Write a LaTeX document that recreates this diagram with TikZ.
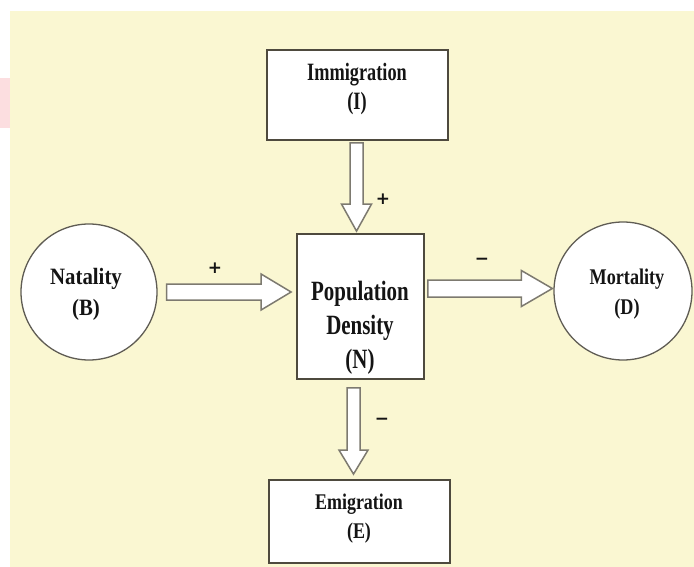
\documentclass[tikz,border=0pt]{standalone}
\usepackage{graphicx}
\usepackage{fontspec}
\setmainfont{Liberation Serif}
\newfontfamily\signfont{DejaVu Sans}
\usetikzlibrary{calc}
\definecolor{bgyellow}{RGB}{250,247,210}
\definecolor{boxline}{RGB}{78,74,62}
\definecolor{circline}{RGB}{95,92,84}
\definecolor{arrline}{RGB}{125,122,112}
\definecolor{txt}{RGB}{20,20,20}
\definecolor{wmpink}{RGB}{252,222,224}
\newcommand\sq[2]{\scalebox{#1}[1]{#2}}
\newcommand\harrow[5]{%
  \draw[barrow] let \p1=(#1), \p2=(#2) in
    (\x1,\y1+#3) -- (\x2-#5,\y1+#3) -- (\x2-#5,\y1+#4) -- (\x2,\y1)
    -- (\x2-#5,\y1-#4) -- (\x2-#5,\y1-#3) -- (\x1,\y1-#3) -- cycle;}
\newcommand\varrow[5]{%
  \draw[barrow] let \p1=(#1), \p2=(#2) in
    (\x1-#3,\y1) -- (\x1-#3,\y2+#5) -- (\x1-#4,\y2+#5) -- (\x1,\y2)
    -- (\x1+#4,\y2+#5) -- (\x1+#3,\y2+#5) -- (\x1+#3,\y1) -- cycle;}
\begin{document}
\begin{tikzpicture}[x=1bp,y=-1bp,
  box/.style={draw=boxline,line width=1.8bp,fill=white,inner sep=0pt},
  circ/.style={circle,draw=circline,line width=1.3bp,fill=white,inner sep=0pt},
  lbl/.style={align=center,text=txt,inner sep=0pt},
  barrow/.style={draw=arrline,line width=1.5bp,fill=white,line join=miter},
  sign/.style={text=txt,inner sep=0pt,font=\signfont\bfseries\fontsize{17}{17}\selectfont}]
\useasboundingbox (0,0) rectangle (694,567);
\fill[white] (0,0) rectangle (694,567);
\fill[bgyellow] (10,11) rectangle (694,567);
\fill[wmpink] (0,78) rectangle (10,128);
% nodes
\node[box,minimum width=181bp,minimum height=90bp] (imm) at (357.5,95) {};
\node[box,minimum width=127bp,minimum height=145bp] (pop) at (360.5,306.5) {};
\node[box,minimum width=181bp,minimum height=83bp] (emi) at (359.5,521.5) {};
\node[circ,minimum size=136bp] (nat) at (89,292) {};
\node[circ,minimum size=138bp] (mor) at (623,291) {};
% labels
\node[lbl,font=\bfseries\fontsize{25}{30}\selectfont] (immT) at (357,89)
  {\sq{0.735}{Immigration}\\\sq{0.735}{(I)}};
\node[lbl,font=\bfseries\fontsize{28}{34}\selectfont] (popT) at (360,328)
  {\sq{0.75}{Population}\\\sq{0.75}{Density}\\\sq{0.75}{(N)}};
\node[lbl,font=\bfseries\fontsize{23.5}{31}\selectfont] (natT) at (86,294)
  {\sq{0.89}{Natality}\\\sq{0.89}{(B)}};
\node[lbl,font=\bfseries\fontsize{22.5}{30}\selectfont] (morT) at (627,294)
  {\sq{0.81}{Mortality}\\\sq{0.81}{(D)}};
\node[lbl,font=\bfseries\fontsize{22.5}{29}\selectfont] (emiT) at (359,519)
  {\sq{0.80}{Emigration}\\\sq{0.80}{(E)}};
% block arrows
\coordinate (a1s) at ($(imm.south)+(-1,2)$);
\coordinate (a1t) at ($(pop.north)+(-4,-2)$);
\varrow{a1s}{a1t}{6.5bp}{15bp}{27bp}
\coordinate (a2s) at ($(nat.east)+(9,0)$);
\coordinate (a2t) at ($(pop.west)+(-5,0)$);
\harrow{a2s}{a2t}{8bp}{18bp}{30bp}
\coordinate (a3s) at ($(pop.east)+(3,-18)$);
\coordinate (a3t) at ($(mor.west)+(-1,-3)$);
\harrow{a3s}{a3t}{8.5bp}{18bp}{31bp}
\coordinate (a4s) at ($(pop.south)+(-7,8)$);
\coordinate (a4t) at ($(emi.north)+(-7,-5)$);
\varrow{a4s}{a4t}{6.5bp}{14.5bp}{24bp}
% signs
\node[sign] (s1) at (383,199) {+};
\node[sign] (s2) at (215,268) {+};
\node[sign] (s3) at (482,261) {−};
\node[sign] (s4) at (382,421) {−};
\end{tikzpicture}
\end{document}
